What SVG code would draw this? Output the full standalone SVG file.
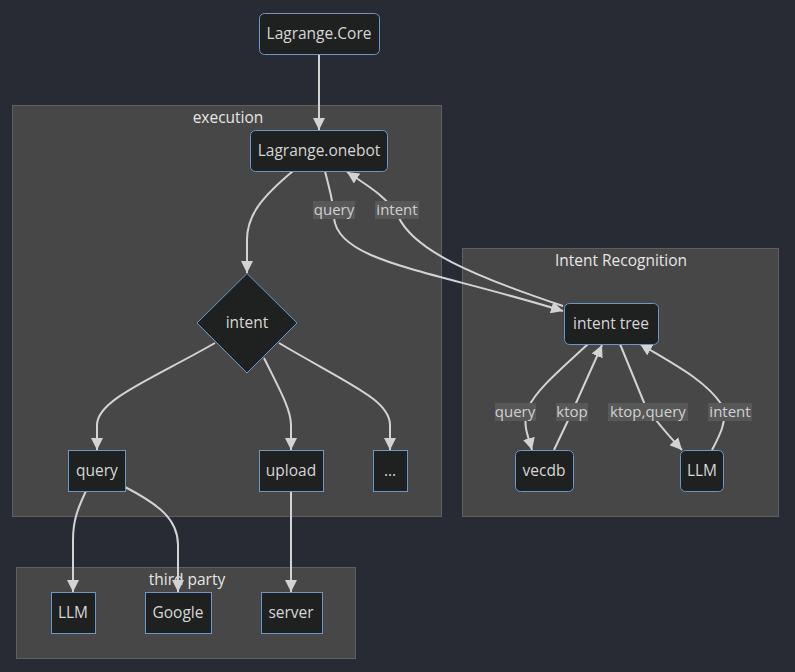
<svg xmlns="http://www.w3.org/2000/svg" width="795" height="672" viewBox="0 0 795 672">
<defs>
<style>
.cl{fill:#474747;stroke:#5f5f5f;stroke-width:1}
.ct{fill:#e6e6e6;font-family:"Open Sans","Liberation Sans",sans-serif;font-size:15.5px;text-anchor:middle;dominant-baseline:central}
.nd{fill:#1f2020;stroke:#6a98c8;stroke-width:1}
.nt{fill:#d6d6d6;font-family:"Open Sans","Liberation Sans",sans-serif;font-size:15.5px;text-anchor:middle;dominant-baseline:central}
.e{fill:none;stroke:#d3d3d3;stroke-width:2}
.lb{fill:#585858}
.lt{fill:#d0d0d0;font-family:"Open Sans","Liberation Sans",sans-serif;font-size:15px;text-anchor:middle;dominant-baseline:central}
</style>
<marker id="ah" viewBox="0 0 10 10" refX="10" refY="5" markerWidth="12" markerHeight="12" markerUnits="userSpaceOnUse" orient="auto">
<path d="M0,0 L10,5 L0,10 z" fill="#d3d3d3"/>
</marker>
</defs>
<rect width="795" height="672" fill="#282b34"/>
<g id="clusters">
<g id="execution"><rect class="cl" x="12.5" y="105.5" width="429" height="411"/><text class="ct" x="228" y="117">execution</text></g>
<g id="intent-recognition"><rect class="cl" x="462.5" y="248.5" width="316" height="268"/><text class="ct" x="621" y="260">Intent Recognition</text></g>
<g id="third-party"><rect class="cl" x="16.5" y="567.5" width="339" height="91"/><text class="ct" x="187" y="579">third party</text></g>
</g>
<g id="edges">
<path class="e" marker-end="url(#ah)" d="M319,54 L319,130"/>
<path class="e" marker-end="url(#ah)" d="M293,171 C262,197 247,215 247,240 L247,273"/>
<path class="e" marker-end="url(#ah)" d="M325,171 C330,192 334,203 334,218 C338,262 430,270 563,311"/>
<path class="e" marker-end="url(#ah)" d="M563,306 C470,275 415,250 399,218 C390,200 372,188 347,172"/>
<path class="e" marker-end="url(#ah)" d="M215,343 C150,380 97,400 97,425 L97,450"/>
<path class="e" marker-end="url(#ah)" d="M264,358 C280,390 291,410 291,425 L291,450"/>
<path class="e" marker-end="url(#ah)" d="M279,343 C350,385 390,400 390,425 L390,450"/>
<path class="e" marker-end="url(#ah)" d="M86,491 C78,508 73,520 73,540 L73,592"/>
<path class="e" marker-end="url(#ah)" d="M125,487 C160,505 178,520 178,545 L178,592"/>
<path class="e" marker-end="url(#ah)" d="M291,491 L291,592"/>
<path class="e" marker-end="url(#ah)" d="M588,344 C560,370 536,390 528,408 C522,425 528,435 532,450"/>
<path class="e" marker-end="url(#ah)" d="M554,450 L572,412 L602,345"/>
<path class="e" marker-end="url(#ah)" d="M620,344 L645,405 C655,420 668,435 682,450"/>
<path class="e" marker-end="url(#ah)" d="M712,450 C720,435 728,420 722,405 C705,380 675,365 640,344"/>
<g id="edge-labels">
<rect class="lb" x="313" y="201" width="42" height="18"/><text class="lt" x="334" y="209">query</text>
<rect class="lb" x="375" y="201" width="44" height="18"/><text class="lt" x="397" y="209">intent</text>
<rect class="lb" x="495" y="403" width="41" height="18"/><text class="lt" x="515" y="411">query</text>
<rect class="lb" x="556" y="403" width="32" height="18"/><text class="lt" x="572" y="411">ktop</text>
<rect class="lb" x="608" y="403" width="80" height="18"/><text class="lt" x="648" y="411">ktop,query</text>
<rect class="lb" x="708" y="403" width="44" height="18"/><text class="lt" x="730" y="411">intent</text>
</g>
</g>
<g id="core"><rect class="nd" x="259.5" y="13.5" width="120" height="41" rx="5"/><text class="nt" x="319" y="33">Lagrange.Core</text></g>
<g id="onebot"><rect class="nd" x="250.5" y="130.5" width="137" height="41" rx="5"/><text class="nt" x="319" y="150">Lagrange.onebot</text></g>
<g id="intent"><polygon class="nd" points="247,273.5 297,323 247,373 197,323"/><text class="nt" x="247" y="322">intent</text></g>
<g id="query"><rect class="nd" x="68.5" y="450.5" width="57" height="41"/><text class="nt" x="97" y="470">query</text></g>
<g id="upload"><rect class="nd" x="259.5" y="450.5" width="64" height="41"/><text class="nt" x="291" y="470">upload</text></g>
<g id="more"><rect class="nd" x="373.5" y="450.5" width="34" height="41"/><text class="nt" x="390" y="470">...</text></g>
<g id="intent-tree"><rect class="nd" x="564.5" y="303.5" width="94" height="41" rx="5"/><text class="nt" x="611" y="323">intent tree</text></g>
<g id="vecdb"><rect class="nd" x="515.5" y="450.5" width="58" height="41" rx="5"/><text class="nt" x="544" y="470">vecdb</text></g>
<g id="llm-ir"><rect class="nd" x="680.5" y="450.5" width="43" height="41" rx="5"/><text class="nt" x="702" y="470">LLM</text></g>
<g id="llm-tp"><rect class="nd" x="51.5" y="592.5" width="44" height="41"/><text class="nt" x="73" y="612">LLM</text></g>
<g id="google"><rect class="nd" x="145.5" y="592.5" width="66" height="41"/><text class="nt" x="178" y="612">Google</text></g>
<g id="server"><rect class="nd" x="261.5" y="592.5" width="61" height="41"/><text class="nt" x="291" y="612">server</text></g>
</svg>
